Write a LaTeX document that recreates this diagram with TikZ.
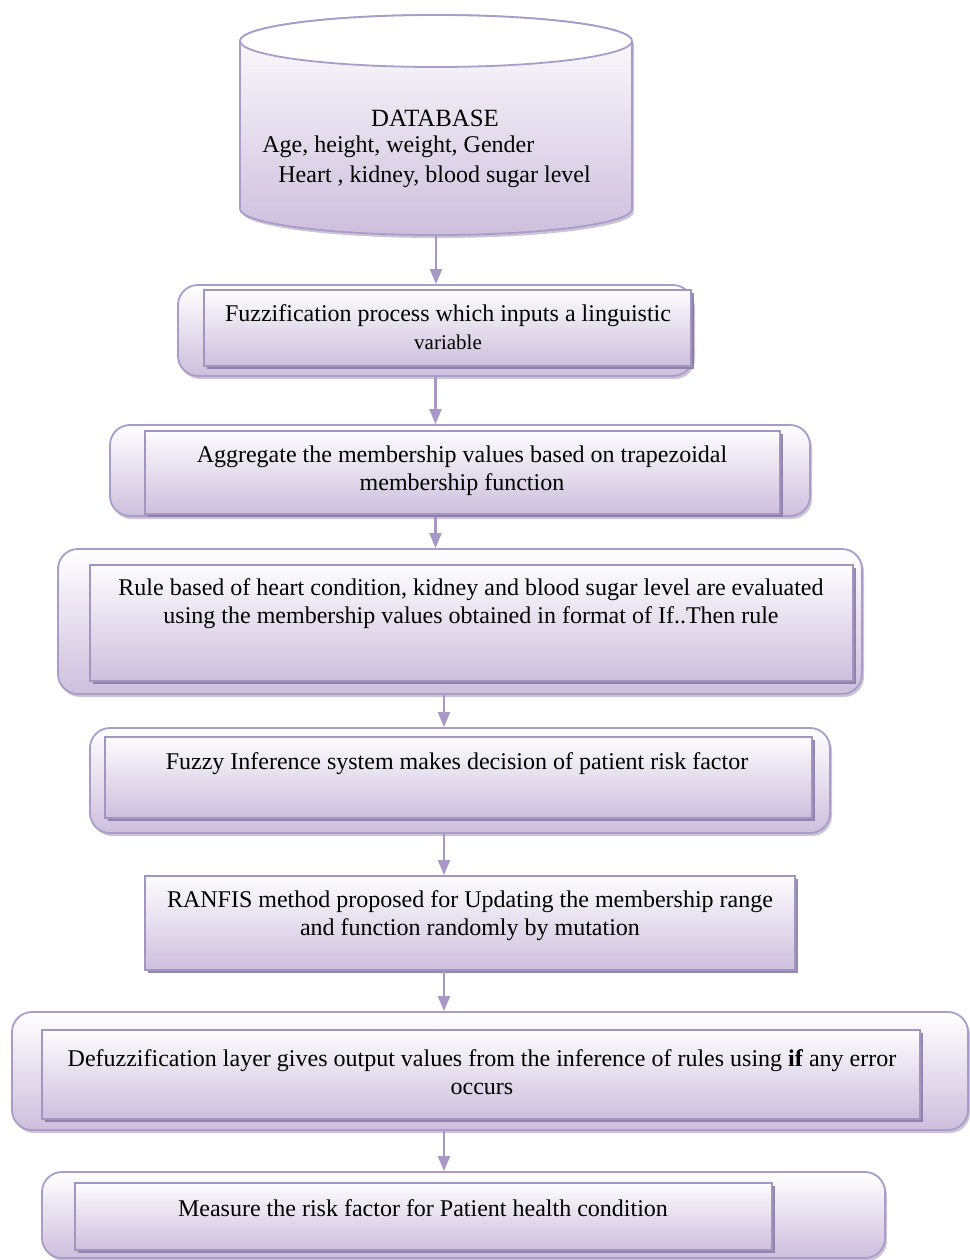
\documentclass[tikz,border=0pt]{standalone}
\usepackage{fontspec}
\setmainfont{Liberation Serif}
\usetikzlibrary{shadows,arrows.meta}
\definecolor{bordc}{HTML}{AA9CC9}
\definecolor{fillc}{HTML}{CDBFDD}
\definecolor{innerb}{HTML}{A295C1}
\definecolor{shc}{HTML}{8A7DA5}
\definecolor{arrc}{HTML}{A898C6}
\begin{document}
\begin{tikzpicture}[x=0.5pt,y=-0.5pt,
 place/.style n args={4}{minimum width={(#3-#1)*0.5pt},minimum height={(#4-#2)*0.5pt},at={({(#1+#3)/2},{(#2+#4)/2})}},
 outerbox/.style={draw=bordc,line width=0.9pt,rounded corners=10pt,top color=white,bottom color=fillc,drop shadow={shadow xshift=1pt,shadow yshift=-1.5pt,fill=shc,opacity=0.45},inner sep=0pt},
 innerbox/.style={draw=innerb,line width=0.9pt,top color=white!96!fillc,bottom color=fillc,drop shadow={shadow xshift=1.5pt,shadow yshift=-1.5pt,fill=shc,opacity=0.9},inner sep=0pt},
 txt/.style={font=\fontsize{12}{14}\selectfont,align=center,inner sep=0pt},
 arr/.style={draw=arrc,line width=1.1pt,-{Triangle[width=6pt,length=7.5pt]}}]
\useasboundingbox (0,0) rectangle (970,1260);

% database cylinder
\path[draw=bordc,line width=0.9pt,top color=white,bottom color=fillc,drop shadow={shadow xshift=1pt,shadow yshift=-1.5pt,fill=shc,opacity=0.45}]
 (240,41) -- (240,209) arc[start angle=180,end angle=360,x radius=98pt,y radius=13pt]
 -- (632,41) arc[start angle=0,end angle=180,x radius=98pt,y radius=13pt] -- cycle;
\draw[bordc,line width=0.9pt,fill=white] (436,41) ellipse[x radius=98pt,y radius=13pt];
\node[inner sep=0pt,place={240}{15}{632}{235}] (db) {};
\node[txt,font=\fontsize{12.4}{14}\selectfont] (dbt1) at (435,118) {DATABASE};
\node[txt,anchor=west] (dbt2) at (262,147) {Age, height, weight, Gender};
\node[txt,anchor=west] (dbt3) at (278,177) {Heart , kidney, blood sugar level};

% box 2
\node[outerbox,place={178}{285}{693}{376}] (o2) {};
\node[innerbox,place={204}{290}{691}{366}] (i2) {};
\node[txt] (t2a) at (448,316) {Fuzzification process which inputs a linguistic};
\node[txt,font=\fontsize{10.5}{12}\selectfont] (t2b) at (448,342) {variable};

% box 3
\node[outerbox,place={110}{425}{810}{516}] (o3) {};
\node[innerbox,place={145}{431}{780}{514}] (i3) {};
\node[txt] (t3) at (462,471) {Aggregate the membership values based on trapezoidal\\membership function};

% box 4
\node[outerbox,place={58}{549}{862}{694}] (o4) {};
\node[innerbox,place={90}{565}{853}{681}] (i4) {};
\node[txt] (t4) at (471,604) {Rule based of heart condition, kidney and blood sugar level are evaluated\\using the membership values obtained in format of If..Then rule};

% box 5
\node[outerbox,place={90}{728}{830}{833}] (o5) {};
\node[innerbox,place={105}{737}{812}{818}] (i5) {};
\node[txt] (t5) at (457,764) {Fuzzy Inference system makes decision of patient risk factor};

% box 6
\node[innerbox,place={145}{876}{795}{970}] (i6) {};
\node[txt] (t6) at (470,916) {RANFIS method proposed for Updating the membership range\\and function randomly by mutation};

% box 7
\node[outerbox,place={12}{1012}{968}{1130}] (o7) {};
\node[innerbox,place={42}{1030}{920}{1119}] (i7) {};
\node[txt] (t7) at (482,1072) {Defuzzification layer gives output values from the inference of rules using \textbf{if} any error\\occurs};

% box 8
\node[outerbox,place={42}{1172}{885}{1258}] (o8) {};
\node[innerbox,place={75}{1183}{772}{1250}] (i8) {};
\node[txt] (t8) at (423,1208) {Measure the risk factor for Patient health condition};

% connectors
\coordinate (ax) at (444,0);
\draw[arr] (db.south) -- (db.south |- o2.north);
\draw[arr] (o2.south) -- (o2.south |- o3.north);
\draw[arr] (o3.south -| o2.south) -- (o2.south |- o4.north);
\draw[arr] (o4.south -| ax) -- (o5.north -| ax);
\draw[arr] (o5.south -| ax) -- (i6.north -| ax);
\draw[arr] (i6.south -| ax) -- (o7.north -| ax);
\draw[arr] (o7.south -| ax) -- (o8.north -| ax);
\end{tikzpicture}
\end{document}
